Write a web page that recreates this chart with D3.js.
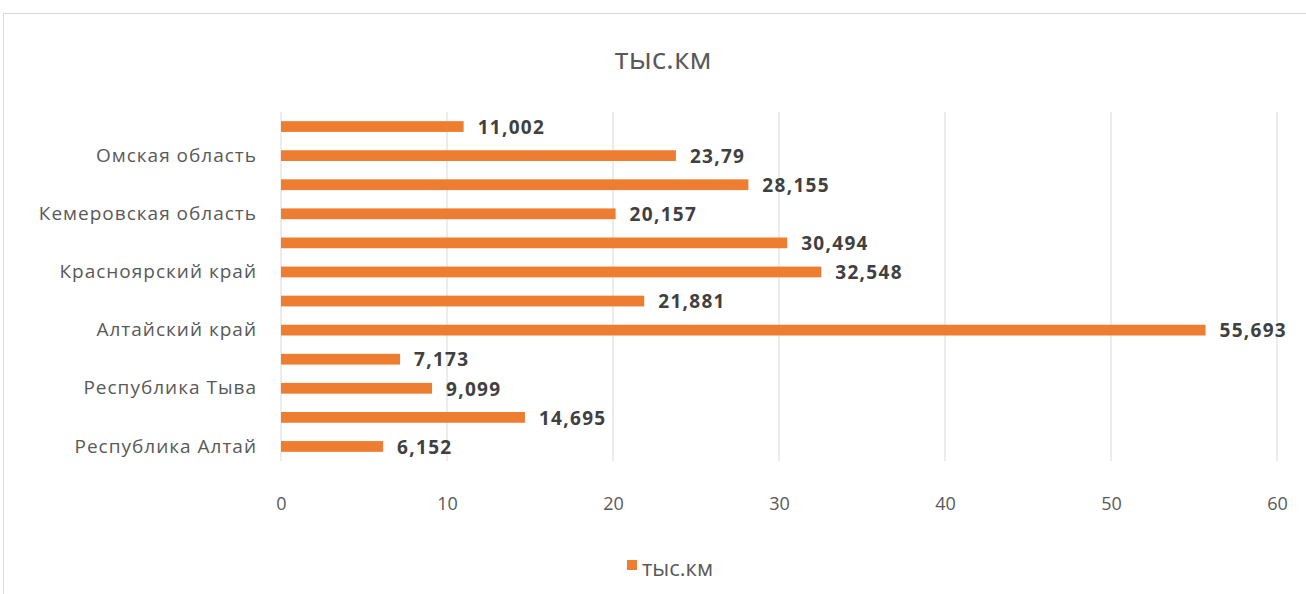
<!DOCTYPE html>
<html>
<head>
<meta charset="utf-8">
<script src="https://cdn.jsdelivr.net/npm/d3@7"></script>
<style>
  body { margin: 0; background: #fff; }
  svg text { font-family: "Open Sans", sans-serif; }
</style>
</head>
<body>
<div id="chart"></div>
<script>
// categories, bottom to top as in the source sheet
var regions = ["Республика Алтай", "Республика Бурятия", "Республика Тыва", "Республика Хакасия",
  "Алтайский край", "Забайкальский край", "Красноярский край", "Иркутская область",
  "Кемеровская область", "Новосибирская область", "Омская область", "Томская область"];
var km = [6.152, 14.695, 9.099, 7.173, 55.693, 21.881, 32.548, 30.494, 20.157, 28.155, 23.79, 11.002];
var xTicks = [0, 10, 20, 30, 40, 50, 60];
var seriesName = "тыс.км";

var W = 1306, H = 594;
var margin = {top: 112, right: 29, bottom: 133, left: 281};
var width = W - margin.left - margin.right,
    height = H - margin.top - margin.bottom;

var svg = d3.select("#chart").append("svg")
  .attr("width", W).attr("height", H);

// outer chart frame
svg.append("rect")
  .attr("x", 3.5).attr("y", 13.5)
  .attr("width", W + 10).attr("height", H + 10)
  .attr("fill", "#fff").attr("stroke", "#d9d9d9");

svg.append("text")
  .attr("x", 663).attr("y", 69)
  .attr("text-anchor", "middle")
  .attr("font-size", 30).attr("fill", "#595959")
  .text(seriesName);

var g = svg.append("g")
  .attr("transform", "translate(" + margin.left + "," + margin.top + ")");

var x = d3.scaleLinear().domain([0, 60]).range([0, width]);
var y = d3.scaleBand().domain(regions.slice().reverse()).range([0, height]).paddingInner(0.63).paddingOuter(0.315);

// grid
g.selectAll(".grid").data(xTicks).enter().append("line")
  .attr("x1", d => x(d)).attr("x2", d => x(d))
  .attr("y1", 0).attr("y2", height)
  .attr("stroke", "#d9d9d9");

// x axis labels
var xAxis = g.append("g")
  .attr("transform", "translate(0," + (height + 33) + ")")
  .call(d3.axisBottom(x).tickValues(xTicks).tickSize(0).tickFormat(d3.format("d")));
xAxis.select(".domain").remove();
xAxis.selectAll("text").attr("font-size", 18).attr("fill", "#595959")
  .style("font-family", "Open Sans, sans-serif");

// y axis labels, every other category like Excel does
var yAxis = g.append("g")
  .call(d3.axisLeft(y).tickSize(0).tickPadding(24)
    .tickFormat(function (d) { return regions.indexOf(d) % 2 === 0 ? d : ""; }));
yAxis.select(".domain").remove();
yAxis.selectAll("text").attr("font-size", 19).attr("fill", "#595959")
  .style("letter-spacing", "1px")
  .style("font-family", "Open Sans, sans-serif");

// bars
g.selectAll(".bar").data(regions).enter().append("rect")
  .attr("x", x(0))
  .attr("y", d => y(d))
  .attr("width", (d, i) => x(km[i]) - x(0))
  .attr("height", y.bandwidth())
  .attr("fill", "#ed7d31");

// data labels
g.selectAll(".lbl").data(regions).enter().append("text")
  .attr("x", (d, i) => x(km[i]) + 14)
  .attr("y", d => y(d) + y.bandwidth() / 2)
  .attr("dy", "0.38em")
  .attr("font-size", 19).attr("font-weight", "bold").attr("fill", "#404040")
  .style("letter-spacing", "1.3px")
  .text((d, i) => String(km[i]).replace(".", ","));

// legend
var leg = svg.append("g").attr("transform", "translate(627,560)");
leg.append("rect").attr("width", 10).attr("height", 10).attr("fill", "#ed7d31");
leg.append("text").attr("x", 15).attr("y", 16)
  .attr("font-size", 22).attr("fill", "#595959").text(seriesName);
</script>
</body>
</html>
